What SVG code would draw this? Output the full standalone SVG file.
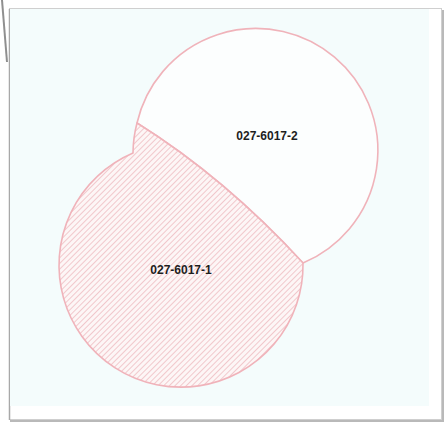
<svg xmlns="http://www.w3.org/2000/svg" width="446" height="423" viewBox="0 0 446 423">
<defs>
<pattern id="hatch" width="4" height="4" patternUnits="userSpaceOnUse" patternTransform="rotate(45)">
<rect width="4" height="4" fill="#fdf6f6"/>
<line x1="0" y1="0" x2="0" y2="4" stroke="#e7a3aa" stroke-width="1.1"/>
</pattern>
</defs>
<style>
.parcel{stroke:#f0b3ba;stroke-width:1.6;stroke-linejoin:round}
.lbl{font-family:"Liberation Sans",Arial,sans-serif;font-size:12px;font-weight:bold;fill:#1e1e1e;text-anchor:middle}
</style>
<rect width="446" height="423" fill="#ffffff"/>
<g id="frame">
<line x1="2" y1="0" x2="7" y2="62" stroke="#8f8f8f" stroke-width="2"/>
<rect x="441" y="10" width="3" height="412" fill="#b9b9b9"/>
<rect x="10" y="419" width="434" height="3" fill="#b9b9b9"/>
<rect x="9.5" y="8.5" width="432" height="411" fill="#ffffff" stroke="#cfcfcf" stroke-width="1"/>
<line x1="9.5" y1="9" x2="9.5" y2="420" stroke="#a8a8a8" stroke-width="1.5"/>
<rect x="10" y="9" width="419" height="397" fill="#f4fcfc"/>
</g>
<g id="parcel-027-6017-2">
<path class="parcel" fill="#fcfefe" d="M137,123 A122,122 0 1 1 303,263 Q225,178 137,123 Z"/>
<text class="lbl" x="267" y="140">027-6017-2</text>
</g>
<g id="parcel-027-6017-1">
<path class="parcel" fill="url(#hatch)" d="M133,153 A122,122 0 0 1 137,123 Q225,178 303,263 A122,122 0 1 1 133,153 Z"/>
<text class="lbl" x="181" y="274">027-6017-1</text>
</g>
</svg>
